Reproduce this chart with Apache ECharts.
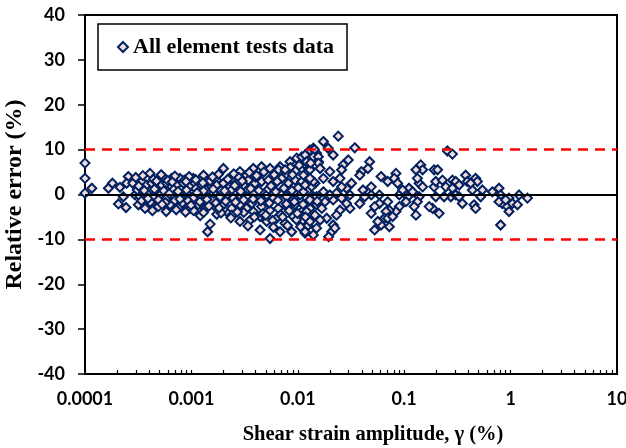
<!DOCTYPE html>
<html><head><meta charset="utf-8">
<script src="https://cdn.jsdelivr.net/npm/echarts@6/dist/echarts.min.js"></script>
<style>html,body{margin:0;padding:0;background:#fff}#c{width:626px;height:448px}</style>
</head><body><div id="c"></div>
<script>
// shear strain amplitude (%) values of the points
const strain = [
0.0001,0.0001,0.0001,0.000116,0.000166,0.000181,0.000206,0.000213,0.000229,0.000243,
0.000255,0.000246,0.000281,0.000295,0.000317,0.000329,0.000341,0.000367,0.00038,0.00038,
0.000408,0.000424,0.000424,0.000439,0.000472,0.000489,0.000507,0.000526,0.000537,0.000586,
0.000586,0.00063,0.000653,0.000653,0.000676,0.000728,0.000782,0.000782,0.000782,0.00084,
0.000903,0.00097,0.00097,0.00104,0.00104,0.00108,0.00116,0.00121,0.00121,0.00125,
0.00125,0.00134,0.00139,0.00139,0.00142,0.0015,0.00155,0.00161,0.00167,0.00173,
0.00173,0.00173,0.00186,0.002,0.002,0.002,0.00215,0.00222,0.00231,0.00239,
0.00248,0.00248,0.00266,0.00286,0.00286,0.00286,0.00286,0.00308,0.0033,0.0033,
0.0033,0.00343,0.00356,0.00382,0.00382,0.00382,0.00396,0.00442,0.00442,0.00442,
0.00457,0.00457,0.00457,0.0051,0.0051,0.00529,0.00548,0.00548,0.00548,0.00589,
0.00611,0.00633,0.00656,0.00681,0.00681,0.00681,0.00706,0.00758,0.00786,0.00786,
0.00815,0.00845,0.00876,0.00908,0.00908,0.00941,0.00941,0.00976,0.0105,0.0109,
0.0109,0.0109,0.0109,0.0117,0.0121,0.0126,0.013,0.013,0.013,0.013,
0.014,0.014,0.0145,0.015,0.015,0.015,0.0156,
0.00031,0.00036,0.00045,0.00055,0.00068,0.00075,0.0009,0.0011,0.0013,0.0016,
0.0019,0.0024,0.0029,0.0036,0.0043,0.0053,0.0062,0.0074,0.0088,0.0101,
0.0123,0.0135,
0.00034,0.00041,0.00049,0.00057,0.0007,0.00082,0.00093,0.0012,0.0014,0.0017,
0.0021,0.0026,0.0031,0.0037,0.0045,0.0054,0.0065,0.0078,0.0093,0.0112,
0.0128,
0.0003,0.00035,0.00044,0.00052,0.0006,0.0007,0.00086,0.00095,0.0011,0.0013,
0.0015,0.0018,0.0022,0.0025,0.0028,0.0035,0.004,0.0048,0.006,0.0066,
0.0078,0.0085,0.0095,0.0115,0.012,
0.00043,0.00058,0.00072,0.00088,0.00105,0.0013,0.0019,0.0024,0.0031,0.0039,
0.0047,0.0058,0.0069,0.008,0.0097,0.0106,0.0125,0.014,
0.024,0.0343,0.0174,0.0143,0.0193,0.0215,0.0117,0.014,0.0156,0.0156,
0.0121,0.0298,0.0267,0.0473,0.0396,0.0456,0.0382,0.0258,0.02,0.0162,
0.013,0.0113,0.255,0.284,0.143,0.149,0.129,0.191,0.206,0.0836,
0.0807,0.0606,0.07,0.0867,0.111,0.138,0.133,0.149,0.191,0.198,
0.229,0.246,0.284,0.305,0.328,0.378,0.392,0.469,0.487,0.437,
0.421,0.523,0.543,0.674,0.778,0.806,0.836,0.932,0.966,0.966,
0.806,1.04,1.2,1.44,0.352,0.453,0.469,0.274,0.237,0.198,
0.284,0.185,0.172,0.213,0.138,0.133,0.108,0.129,0.124,0.104,
0.0899,0.0966,0.0899,0.0836,0.0725,0.07,0.0675,0.0651,0.0725,0.0606,
0.0527,0.0565,0.049,0.049,0.049,0.041,0.0425,0.0382,0.0309,0.0309,
0.0287,0.0258,0.0249,0.0231,0.0215,0.0208,0.0195,0.0223,0.0187,0.0162,
0.0145,0.013,0.0117,0.0121,0.0168,0.018,0.0215,0.0231,0.02,0.0174,
0.015,0.013,0.0113,0.0287,0.032,0.0258,0.0215,0.0174,0.014,0.0117,
0.013,0.0249,0.0585,0.0585,0.0527,0.07,0.0778,0.12,0.778,0.899,
1.16,0.305,0.328,
0.00032,0.00039,0.00047,0.00053,0.00062,0.00066,0.00078,0.00089,0.00099,0.00113,
0.00128,0.00146,0.00158,0.00182,0.00205,0.00235,0.00255,0.0027,0.003,0.0034,
0.0038,0.0041,0.005,0.0056,0.0059,0.0064,0.0072,0.0076,0.0083,0.0089,
0.0099,0.0103,0.0118,0.0132,0.0152
];
// relative error (%) of the points, same order
const relError = [
7.0,3.6,0.3,1.4,1.4,2.5,-2.1,1.6,-0.5,-2.9,
4.0,2.5,2.5,-0.1,-2.3,-0.5,2.9,-3.1,2.1,0.3,
4.7,2.5,-2.0,-0.5,1.7,-2.7,-0.1,2.1,4.0,2.5,
-0.8,-2.3,3.6,1.7,-0.1,2.1,3.6,-0.5,-2.7,2.5,
0.3,1.7,-3.1,3.6,-0.8,2.5,-2.3,-0.1,-4.7,3.6,
2.1,-3.1,2.9,-0.5,-8.3,-6.6,1.7,0.3,-2.7,3.2,
2.1,-4.4,-0.5,5.8,2.5,-2.3,-0.1,-4.2,1.7,-3.1,
3.6,-0.8,2.5,5.1,-0.1,-2.3,-6.0,2.1,4.3,-0.5,
-3.1,3.2,-5.7,5.8,0.3,-3.8,2.5,-0.8,-4.9,-7.9,
6.2,2.9,-2.7,-0.1,-6.0,3.2,5.8,-3.5,-9.8,-0.8,
2.5,-5.3,-3.1,6.2,0.3,-8.3,3.6,-6.4,-0.5,-2.7,
2.5,7.3,-8.3,-1.2,-4.9,3.2,-2.3,8.1,-0.1,8.4,
2.9,-3.8,-6.0,-8.6,-0.8,3.6,9.9,5.8,-3.1,-5.7,
10.3,-0.5,2.5,9.2,-2.3,-7.5,7.3,
1.0,0.9,1.2,0.8,1.1,0.7,1.0,1.3,0.8,1.2,
0.9,1.1,0.7,1.3,0.9,1.2,0.6,1.4,0.9,1.5,
0.8,1.8,
-1.4,-1.7,-1.2,-1.8,-1.3,-1.9,-1.4,-1.6,-1.1,-1.9,
-1.5,-1.7,-1.2,-2.0,-1.4,-1.9,-1.3,-2.1,-1.6,-2.2,
-1.4,
3.8,4.2,3.4,4.4,3.1,4.1,3.2,4.0,3.3,4.3,
3.0,4.5,3.4,4.6,3.8,4.9,3.9,5.0,4.4,5.5,
4.6,6.0,5.2,6.8,4.8,
-3.6,-3.8,-3.4,-3.9,-3.6,-4.0,-4.1,-4.6,-4.0,-5.0,
-4.3,-5.8,-4.5,-6.9,-5.6,-7.2,-6.9,-9.0,
13.0,10.4,11.8,10.0,10.3,8.8,8.8,8.4,8.4,7.0,
7.3,7.7,6.6,7.3,5.1,5.8,4.3,5.5,5.1,5.8,
5.5,4.3,9.7,9.0,6.6,5.5,5.5,5.5,5.5,4.7,
3.6,4.0,2.9,2.5,1.4,2.5,3.6,1.7,1.7,2.9,
3.2,1.7,3.2,2.9,2.1,4.3,2.9,3.6,2.9,1.0,
2.5,-0.5,1.0,0.6,1.4,-0.1,-2.0,-2.7,-0.8,-3.8,
-6.8,-2.0,-0.1,-0.8,-2.0,-2.3,-3.1,-0.5,-0.5,-0.5,
1.4,-3.1,-2.7,-4.2,-0.5,-1.6,-0.5,-4.6,-2.7,-1.6,
-0.1,1.0,-2.7,-3.8,-3.5,-1.6,-3.8,-5.3,-7.2,-6.8,
-7.9,-6.0,-4.2,-0.1,1.7,1.0,-0.5,-2.0,-0.1,-3.1,
-2.0,-0.8,-3.5,-4.6,-6.8,-8.3,-9.4,-7.5,-5.3,-5.7,
-4.6,-6.0,-8.3,-3.8,-3.1,-1.6,-1.2,0.3,-0.1,0.6,
-0.5,-1.2,0.6,1.4,2.5,1.7,2.9,3.6,2.9,2.1,
3.6,3.6,-0.1,-2.0,-2.7,-5.3,-4.9,0.6,-1.6,-1.2,
-2.3,-0.1,-0.5,
1.9,-0.9,3.0,-2.2,0.2,2.8,-1.0,2.9,-2.4,0.4,
2.6,-2.6,3.9,-3.0,0.8,-5.2,2.0,-3.9,3.0,-7.0,
-1.0,4.2,-4.6,1.9,-7.3,2.9,-5.0,5.5,-3.6,4.4,
-4.2,6.5,-5.0,7.0,-1.5
];
const xTickLabels = ['0.0001','0.001','0.01','0.1','1','10'];
const xMinorTicks = [0.0001,0.0002,0.0003,0.0004,0.0005,0.0006,0.0007,0.0008,0.0009,
0.001,0.002,0.003,0.004,0.005,0.006,0.007,0.008,0.009,
0.01,0.02,0.03,0.04,0.05,0.06,0.07,0.08,0.09,
0.1,0.2,0.3,0.4,0.5,0.6,0.7,0.8,0.9,
1,2,3,4,5,6,7,8,9,10];
const refLines = [0, 10, -10];
const seriesName = 'All element tests data';
const xTitle = 'Shear strain amplitude, \u03b3 (%)';
const yTitle = 'Relative error (%)';

const pts = strain.map((x, i) => [x, relError[i]]);
const chart = echarts.init(document.getElementById('c'), null, {renderer: 'canvas'});
const tickFont = {fontFamily: 'Lato', fontWeight: 'bold', fontSize: 18, color: '#000'};
chart.setOption({
  animation: false,
  grid: {left: 85, right: 9, top: 15, bottom: 74, show: true, borderColor: '#000', borderWidth: 2, outerBoundsMode: 'none'},
  legend: {
    data: [seriesName], left: 98, top: 24, padding: [12, 13, 12, 19],
    itemWidth: 10, itemHeight: 10, borderColor: '#000', borderWidth: 1.5, backgroundColor: '#fff',
    textStyle: {fontFamily: 'Liberation Serif', fontWeight: 'bold', fontSize: 22, color: '#000'}
  },
  xAxis: [{
    type: 'log', logBase: 10, min: 0.0001, max: 10,
    name: xTitle, nameLocation: 'middle', nameGap: 50,
    nameTextStyle: {fontFamily: 'Liberation Serif', fontWeight: 'bold', fontSize: 20.5, color: '#000', padding: [0, 0, 0, 44]},
    axisLine: {show: true, lineStyle: {color: '#000', width: 2}},
    axisTick: {show: true, inside: false, length: 5, lineStyle: {color: '#000', width: 1.5}},
    axisLabel: Object.assign({margin: 16, formatter: (v, i) => xTickLabels[i] !== undefined ? xTickLabels[i] : ''}, tickFont),
    splitLine: {show: false}, minorTick: {show: false}, minorSplitLine: {show: false}
  }, {
    type: 'log', logBase: 10, min: 0.0001, max: 10, position: 'bottom', offset: 0,
    axisLine: {show: false},
    axisTick: {show: true, inside: true, length: 4, customValues: xMinorTicks, lineStyle: {color: '#000', width: 1.2}},
    axisLabel: {show: false}, splitLine: {show: false}
  }],
  yAxis: {
    type: 'value', min: -40, max: 40, interval: 10,
    name: yTitle, nameLocation: 'middle', nameGap: 55, nameRotate: 90,
    nameTextStyle: {fontFamily: 'Liberation Serif', fontWeight: 'bold', fontSize: 24, color: '#000'},
    axisLine: {show: true, lineStyle: {color: '#000', width: 2}},
    axisTick: {show: true, inside: false, length: 7, lineStyle: {color: '#000', width: 1.5}},
    axisLabel: Object.assign({margin: 20}, tickFont),
    splitLine: {show: false}
  },
  series: [{
    type: 'scatter', name: 'refs', data: [], z: 1, silent: true,
    markLine: {
      silent: true, symbol: ['none', 'none'], label: {show: false}, animation: false,
      data: refLines.map(v => ({yAxis: v, lineStyle: v === 0
        ? {color: '#000', width: 2, type: 'solid'}
        : {color: '#ff0000', width: 2.5, type: [10, 7]}}))
    }
  }, {
    type: 'scatter', name: seriesName, data: pts, z: 3,
    symbol: 'diamond', symbolSize: 9,
    itemStyle: {color: '#f2dcdb', borderColor: '#002060', borderWidth: 2, opacity: 1}
  }]
});
</script></body></html>
